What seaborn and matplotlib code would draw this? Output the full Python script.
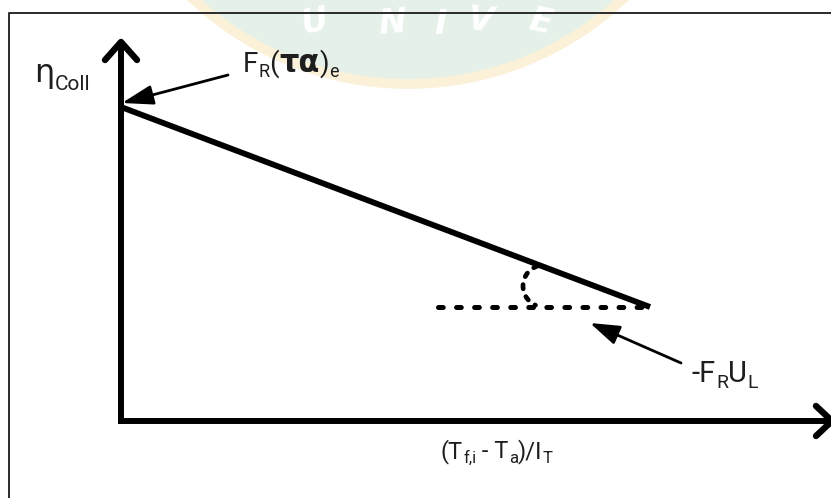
import matplotlib
matplotlib.use("Agg")
import matplotlib.pyplot as plt
import seaborn as sns
from matplotlib.patches import Arc, Circle

sns.set_theme(style="white")
plt.rcParams["font.family"] = ["Roboto", "DejaVu Sans"]
plt.rcParams["lines.scale_dashes"] = False

W, H, DPI = 831, 498, 100
ORIGIN_X, ORIGIN_Y = 121, 421   # pixel position of the axis corner


def px(x):
    return x - ORIGIN_X


def py(y):
    return ORIGIN_Y - y


# Collector efficiency line: eta falls linearly with (Tf,i - Ta)/IT
loss_param = [0.0, 529.0]
eta_coll = [314.0, 114.0]
# Horizontal reference used to show the slope angle
ref_param = [317.0, 529.0]
ref_eta = [114.0, 114.0]

x_axis_len = 711
y_axis_len = 379

fig = plt.figure(figsize=(W / DPI, H / DPI), dpi=DPI)
ax = fig.add_axes([0, 0, 1, 1])
ax.set_xlim(px(0), px(W))
ax.set_ylim(py(H), py(0))
ax.axis("off")

# faint emblem in the background
ax.add_patch(Circle((px(408), py(-230)), 314, facecolor="#e5f1e8",
                    edgecolor="#fbf1d8", lw=7, zorder=0))
for ch, (lx, ly), rot in zip("UNIVE",
                             [(315, 22), (392, 23), (440, 24), (480, 21), (540, 22)],
                             [12, 5, 0, -6, -12]):
    ax.text(px(lx), py(ly), ch, fontsize=24, fontweight="bold", style="italic",
            family="DejaVu Sans", color="white", ha="center", va="center",
            rotation=rot, zorder=0.5)

# frame
ax.plot([px(9), px(9), px(W + 5)], [py(H + 5), py(13), py(13)],
        color="#2a2a2a", lw=1.4, zorder=1)

# axes with open arrow heads
ax.plot([0, 0, x_axis_len], [y_axis_len, 0, 0], color="black", lw=4.3,
        solid_joinstyle="miter", solid_capstyle="butt", zorder=3)
ax.plot([-16, 0, 16], [y_axis_len - 18, y_axis_len, y_axis_len - 18],
        color="black", lw=4.6, solid_capstyle="round", solid_joinstyle="round", zorder=3)
ax.plot([x_axis_len - 16, x_axis_len, x_axis_len - 16], [15, 0, -15],
        color="black", lw=4.6, solid_capstyle="round", solid_joinstyle="round", zorder=3)

# efficiency line and dashed horizontal reference
sns.lineplot(x=loss_param, y=eta_coll, ax=ax, color="black", lw=4.2,
             solid_capstyle="butt", zorder=4)
sns.lineplot(x=ref_param, y=ref_eta, ax=ax, color="black", lw=3.6,
             linestyle=(0, (3.4, 9.6)), dash_capstyle="round", zorder=4)

# angle mark between the two lines
ax.add_patch(Arc((px(544), py(286)), 42, 42, theta1=108, theta2=246,
                 color="black", lw=3.4, linestyle=(0, (3.0, 6.0)),
                 capstyle="round", zorder=4))

# pointer arrows
ax.annotate("", xy=(px(122), py(103)), xytext=(px(228), py(75)),
            arrowprops=dict(arrowstyle="-|>,head_length=1.9,head_width=0.6",
                            color="black", lw=2.0, shrinkA=0, shrinkB=0,
                            mutation_scale=10), zorder=5)
ax.annotate("", xy=(px(590), py(323)), xytext=(px(681), py(363)),
            arrowprops=dict(arrowstyle="-|>,head_length=1.8,head_width=0.6",
                            color="black", lw=2.0, shrinkA=0, shrinkB=0,
                            mutation_scale=10), zorder=5)

fig.canvas.draw()
renderer = fig.canvas.get_renderer()
TXT = "#1e1e1e"


def chain(x0, base, parts):
    """Write text pieces one after another along a shared baseline (pixels)."""
    x = x0
    for s, size, dy, fam, weight in parts:
        kw = dict(fontsize=size, va="baseline", ha="left", color=TXT, zorder=6,
                  fontweight=weight)
        if fam:
            kw["family"] = fam
        t = ax.text(px(x), py(base + dy), s, **kw)
        x += t.get_window_extent(renderer).width


chain(34, 82, [("η", 23, 0, "DejaVu Sans", "normal"), ("Coll", 15, 8, None, "normal")])
chain(243, 72, [("F", 20, 0, None, "normal"), ("R", 13, 5, None, "normal"),
                ("(", 20, 0, None, "normal"), ("τα", 22, 0, "DejaVu Sans", "bold"),
                (")", 20, 0, None, "normal"), ("e", 13, 5, None, "normal")])
chain(692, 382, [("-F", 21, 0, None, "normal"), ("R", 14, 6, None, "normal"),
                 ("U", 21, 0, None, "normal"), ("L", 14, 6, None, "normal")])
chain(441, 458, [("(T", 17, 0, None, "normal"), ("f,i", 12, 5, None, "normal"),
                 (" - T", 17, 0, None, "normal"), ("a", 12, 5, None, "normal"),
                 (")/I", 17, 0, None, "normal"), ("T", 12, 5, None, "normal")])

fig.savefig("out.png", dpi=DPI)
